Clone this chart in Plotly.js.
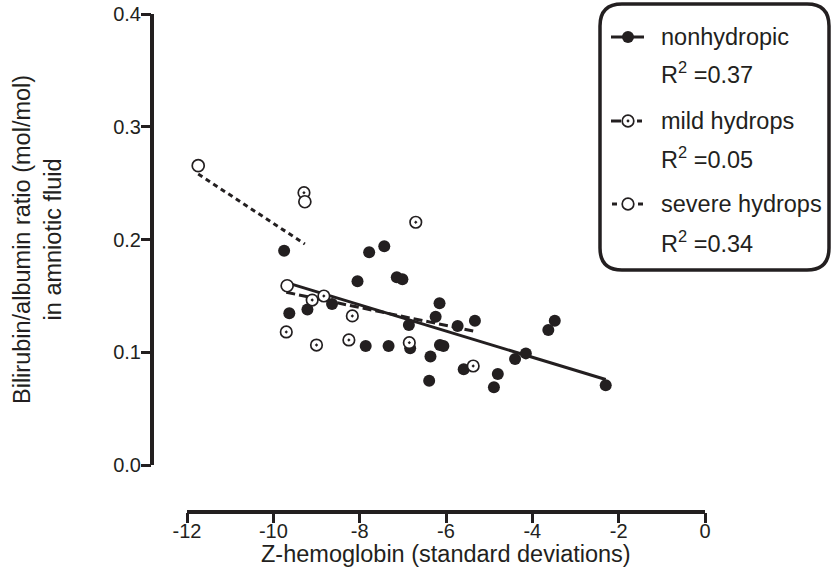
<!DOCTYPE html>
<html><head><meta charset="utf-8">
<script src="https://cdn.plot.ly/plotly-3.0.1.min.js"></script>
<style>html,body{margin:0;padding:0;background:#fff}#chart{width:833px;height:574px}</style>
</head><body><div id="chart"></div>
<script>
// ---- data ----
const nonhydX = [-9.75,-9.63,-9.21,-8.64,-8.05,-7.86,-7.78,-7.43,-7.33,-7.14,-7.01,-6.86,-6.83,-6.39,-6.36,-6.24,-6.15,-6.14,-6.06,-5.73,-5.59,-5.33,-4.89,-4.80,-4.40,-4.15,-3.63,-3.48,-2.30];
const nonhydY = [0.190,0.1345,0.138,0.1428,0.163,0.1055,0.1886,0.194,0.1055,0.1665,0.1647,0.1242,0.1035,0.0748,0.0963,0.1315,0.1434,0.1064,0.1055,0.1233,0.085,0.128,0.0689,0.0807,0.094,0.099,0.1197,0.128,0.0707];
const mildX = [-9.70,-9.29,-9.10,-9.00,-8.83,-8.25,-8.17,-6.85,-6.70,-5.37];
const mildY = [0.118,0.2415,0.1463,0.1064,0.1499,0.1109,0.1322,0.1085,0.2153,0.0878];
const severeX = [-11.74,-9.68,-9.27];
const severeY = [0.2655,0.159,0.2335];
const fitNonX = [-9.75,-2.30], fitNonY = [0.1624,0.0758];
const fitMildX = [-9.70,-5.37], fitMildY = [0.1532,0.1188];
const fitSevX = [-11.74,-9.27], fitSevY = [0.258,0.196];
const xTicks = [-12,-10,-8,-6,-4,-2,0];
const xTickText = ['-12','-10','-8','-6','-4','-2','0'];
const yTicks = [0,0.1,0.2,0.3,0.4];
const yTickText = ['0.0','0.1','0.2','0.3','0.4'];
const groupNames = ['nonhydropic','mild hydrops','severe hydrops'];
const r2Texts = ['R<sup>2</sup> =0.37','R<sup>2</sup> =0.05','R<sup>2</sup> =0.34'];
const xTitle = 'Z-hemoglobin (standard deviations)';
const yTitle = 'Bilirubin/albumin ratio (mol/mol)<br>in amniotic fluid';

// ---- styling ----
const INK = '#231f20';
const FONT = 'Liberation Sans, Arial, Helvetica, sans-serif';
const W = 833, H = 574;
const mL = 152, mR = 128, mT = 14, mB = 62;
const PW = W - mL - mR, PH = H - mT - mB;
const px = x => (x - mL) / PW;
const py = y => (mT + PH - y) / PH;

const traces = [
  {x: fitNonX, y: fitNonY, mode: 'lines', line: {color: INK, width: 3}, showlegend: false, hoverinfo: 'skip'},
  {x: fitMildX, y: fitMildY, mode: 'lines', line: {color: INK, width: 3, dash: '9px,4px'}, showlegend: false, hoverinfo: 'skip'},
  {x: fitSevX, y: fitSevY, mode: 'lines', line: {color: INK, width: 3, dash: '5px,4px'}, showlegend: false, hoverinfo: 'skip'},
  {x: nonhydX, y: nonhydY, mode: 'markers', name: groupNames[0], showlegend: false,
   marker: {symbol: 'circle', size: 12, color: INK, line: {width: 0}}},
  {x: mildX, y: mildY, mode: 'markers', name: groupNames[1], showlegend: false,
   marker: {symbol: 'circle-dot', size: 11.5, color: '#ffffff', line: {width: 1.7, color: INK}}},
  {x: severeX, y: severeY, mode: 'markers', name: groupNames[2], showlegend: false,
   marker: {symbol: 'circle', size: 12, color: '#ffffff', line: {width: 1.7, color: INK}}}
];

const k = 518 / 12;           // px per x unit
const ky = 451 / 0.4;         // px per y unit
const xr = [-12 - 35 / k, 0];
const yr = [-47 / ky, 0.4];

const shapes = [
  {type: 'line', xref: 'x', yref: 'paper', x0: -12, x1: 0, y0: 0, y1: 0, line: {color: INK, width: 4}},
  {type: 'line', xref: 'paper', yref: 'y', x0: 0, x1: 0, y0: 0, y1: 0.4, line: {color: INK, width: 4}}
];

(function(){
  const x0 = 600, x1 = 829, y0 = 4, y1 = 270, r = 22;
  const P = (x, y) => px(x).toFixed(5) + ',' + py(y).toFixed(5);
  const path = 'M' + P(x0 + r, y0) + ' L' + P(x1 - r, y0) + ' Q' + P(x1, y0) + ' ' + P(x1, y0 + r) +
    ' L' + P(x1, y1 - r) + ' Q' + P(x1, y1) + ' ' + P(x1 - r, y1) +
    ' L' + P(x0 + r, y1) + ' Q' + P(x0, y1) + ' ' + P(x0, y1 - r) +
    ' L' + P(x0, y0 + r) + ' Q' + P(x0, y0) + ' ' + P(x0 + r, y0) + ' Z';
  shapes.push({type: 'path', xref: 'paper', yref: 'paper', path: path, line: {color: INK, width: 3.5}, fillcolor: 'rgba(0,0,0,0)'});
})();

const rowY = [37, 121, 204];
const r2Y = [73, 158, 242];
const seg = (xa, xb, y, w) => ({type: 'line', xref: 'paper', yref: 'paper', x0: px(xa), x1: px(xb), y0: py(y), y1: py(y), line: {color: INK, width: w || 3}});
const circ = (cx, cy, r, fill, lw) => ({type: 'circle', xref: 'paper', yref: 'paper', x0: px(cx - r), x1: px(cx + r), y0: py(cy + r), y1: py(cy - r), fillcolor: fill, line: {color: INK, width: lw}});
shapes.push(seg(611, 644, rowY[0]));
shapes.push(circ(628, rowY[0], 6, INK, 0));
shapes.push(seg(611, 621, rowY[1]));
shapes.push(seg(637, 642, rowY[1]));
shapes.push(circ(628, rowY[1], 5.8, '#ffffff', 1.7));
shapes.push(circ(628, rowY[1], 1.4, INK, 0));
shapes.push(seg(612, 617, rowY[2]));
shapes.push(seg(638, 643, rowY[2]));
shapes.push(circ(628, rowY[2], 5.8, '#ffffff', 1.7));

const LF = 23.5;
const annotations = [];
for (let i = 0; i < 3; i++) {
  annotations.push({xref: 'paper', yref: 'paper', x: px(659), y: py(rowY[i]), xanchor: 'left', yanchor: 'middle', text: groupNames[i], showarrow: false, font: {family: FONT, size: LF, color: INK}});
  annotations.push({xref: 'paper', yref: 'paper', x: px(659), y: py(r2Y[i]), xanchor: 'left', yanchor: 'middle', text: r2Texts[i], showarrow: false, font: {family: FONT, size: LF, color: INK}});
}
annotations.push({xref: 'paper', yref: 'paper', x: px(446), y: py(554), xanchor: 'center', yanchor: 'middle', text: xTitle, showarrow: false, font: {family: FONT, size: 23.5, color: INK}});
annotations.push({xref: 'paper', yref: 'paper', x: px(37), y: py(240), xanchor: 'center', yanchor: 'middle', textangle: -90, text: yTitle, showarrow: false, font: {family: FONT, size: 23.5, color: INK}});

const layout = {
  width: W, height: H,
  margin: {l: mL, r: mR, t: mT, b: mB, pad: 0},
  paper_bgcolor: '#ffffff', plot_bgcolor: '#ffffff',
  showlegend: false,
  font: {family: FONT, color: INK},
  xaxis: {range: xr, showgrid: false, zeroline: false, showline: false,
    tickmode: 'array', tickvals: xTicks, ticktext: xTickText,
    ticks: 'outside', ticklen: 10, tickwidth: 3, tickcolor: INK, ticklabelstandoff: -9,
    tickfont: {family: FONT, size: 20, color: INK}},
  yaxis: {range: yr, showgrid: false, zeroline: false, showline: false,
    tickmode: 'array', tickvals: yTicks, ticktext: yTickText,
    ticks: 'outside', ticklen: 10, tickwidth: 3, tickcolor: INK, ticklabelstandoff: -4,
    tickfont: {family: FONT, size: 20, color: INK}},
  shapes: shapes,
  annotations: annotations
};

Plotly.newPlot('chart', traces, layout, {staticPlot: true});
</script></body></html>
